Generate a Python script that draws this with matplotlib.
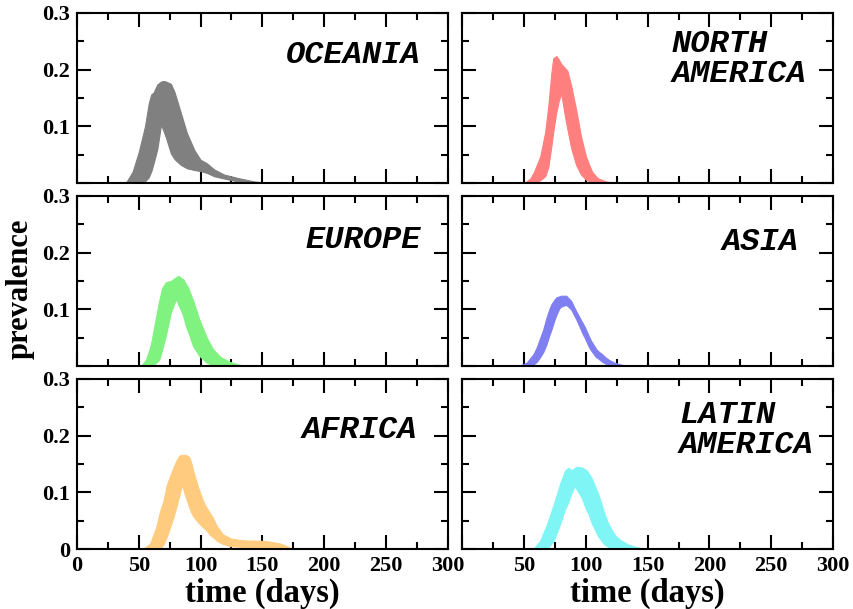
#!/usr/bin/env python3
"""Six-panel prevalence bands per world region (min/max envelope over runs)."""

import matplotlib

matplotlib.use("Agg")
import matplotlib.pyplot as plt
from matplotlib.ticker import MultipleLocator


# --- data (time in days, prevalence) ---
oceania_t = [35, 40, 45, 50, 55, 58, 60, 62, 65, 68, 70, 72, 76, 79, 84, 89,
             95, 100, 105, 111, 119, 130, 143, 155]
oceania_lo = [0, 0, 0, 0, 0.003, 0.010, 0.020, 0.035, 0.060, 0.103, 0.092,
              0.080, 0.052, 0.042, 0.032, 0.026, 0.023, 0.021, 0.018, 0.012,
              0.008, 0.003, 0.001, 0]
oceania_hi = [0, 0.002, 0.020, 0.055, 0.100, 0.140, 0.156, 0.160, 0.174,
              0.179, 0.180, 0.179, 0.175, 0.160, 0.124, 0.088, 0.058, 0.041,
              0.035, 0.024, 0.015, 0.009, 0.003, 0]

north_america_t = [50, 55, 58, 63, 67, 69.5, 72, 73.5, 76, 78, 80, 83, 85, 88,
                   92, 96, 100, 103, 105, 108, 110, 116, 124]
north_america_lo = [0, 0, 0, 0.005, 0.012, 0.028, 0.065, 0.090, 0.125, 0.145,
                    0.158, 0.118, 0.095, 0.062, 0.032, 0.015, 0.006, 0.003,
                    0.002, 0, 0, 0, 0]
north_america_hi = [0, 0.008, 0.020, 0.047, 0.090, 0.135, 0.194, 0.220, 0.224,
                    0.218, 0.210, 0.203, 0.198, 0.172, 0.130, 0.082, 0.047,
                    0.030, 0.020, 0.012, 0.008, 0.003, 0]

europe_t = [52, 56, 58, 60, 63, 66, 67, 69, 72, 76, 79, 80.5, 82, 84.5, 86,
            88.5, 90, 94, 99, 105, 110, 116, 124, 130, 137]
europe_lo = [0, 0, 0, 0.002, 0.004, 0.010, 0.014, 0.030, 0.055, 0.095, 0.112,
             0.118, 0.108, 0.097, 0.088, 0.068, 0.060, 0.035, 0.018, 0.006,
             0.002, 0, 0, 0, 0]
europe_hi = [0, 0.012, 0.025, 0.040, 0.075, 0.110, 0.120, 0.138, 0.148, 0.150,
             0.155, 0.157, 0.159, 0.155, 0.153, 0.143, 0.138, 0.115, 0.082,
             0.050, 0.030, 0.016, 0.007, 0.003, 0]

asia_t = [45.5, 52, 57.5, 60, 63, 65.5, 68, 70.5, 72, 74.5, 76, 78.5, 80, 84,
          88, 92, 93.5, 97.5, 99, 102.5, 104, 108, 109.5, 113.5, 116, 118.5,
          123, 126, 133]
asia_lo = [0, 0, 0.003, 0.007, 0.016, 0.025, 0.038, 0.055, 0.064, 0.081,
           0.090, 0.102, 0.105, 0.108, 0.100, 0.083, 0.076, 0.056, 0.050,
           0.033, 0.028, 0.016, 0.014, 0.007, 0.004, 0.002, 0, 0, 0]
asia_hi = [0, 0.006, 0.021, 0.032, 0.050, 0.065, 0.085, 0.101, 0.109, 0.117,
           0.121, 0.123, 0.124, 0.124, 0.115, 0.097, 0.091, 0.075, 0.069,
           0.052, 0.045, 0.031, 0.027, 0.020, 0.015, 0.011, 0.006, 0.004, 0]

africa_t = [53.5, 59, 64, 67, 70, 72.5, 74, 78, 80.5, 83, 85, 87.5, 89, 91,
            93, 94, 98, 102, 104, 108, 110, 113, 118, 124, 126, 132, 137, 143,
            153, 156, 164, 170, 172, 175]
africa_lo = [0, 0, 0, 0, 0.008, 0.021, 0.030, 0.056, 0.075, 0.097, 0.113,
             0.095, 0.085, 0.072, 0.062, 0.058, 0.047, 0.038, 0.035, 0.024,
             0.021, 0.015, 0.009, 0.005, 0.005, 0.004, 0.003, 0.003, 0.002,
             0.002, 0.001, 0, 0, 0]
africa_hi = [0, 0.009, 0.038, 0.065, 0.085, 0.112, 0.121, 0.144, 0.156,
             0.165, 0.166, 0.166, 0.165, 0.162, 0.148, 0.138, 0.109, 0.085,
             0.076, 0.062, 0.055, 0.041, 0.026, 0.019, 0.018, 0.016, 0.015,
             0.015, 0.014, 0.013, 0.010, 0.005, 0.003, 0]

latin_america_t = [57.5, 63, 68.5, 74, 79, 83, 85, 86, 88.5, 91, 92.5, 96.5,
                   100.5, 102, 104.5, 107, 110, 112.5, 115, 118, 120.5, 123,
                   127, 134, 140, 148]
latin_america_lo = [0, 0, 0, 0.015, 0.044, 0.070, 0.079, 0.085, 0.100, 0.112,
                    0.105, 0.091, 0.068, 0.062, 0.047, 0.035, 0.022, 0.015,
                    0.008, 0.004, 0.002, 0, 0, 0, 0, 0]
latin_america_hi = [0, 0.015, 0.044, 0.079, 0.115, 0.138, 0.142, 0.143, 0.139,
                    0.143, 0.145, 0.144, 0.139, 0.134, 0.126, 0.112, 0.097,
                    0.080, 0.062, 0.045, 0.035, 0.026, 0.017, 0.008, 0.004, 0]

region_names = ["OCEANIA", "NORTH\nAMERICA", "EUROPE", "ASIA", "AFRICA",
                "LATIN\nAMERICA"]
region_colors = ["#808080", "#ff7f7f", "#7ff27f", "#7f7ff2", "#ffcc7f",
                 "#7ff5f5"]
region_data = [
    (oceania_t, oceania_lo, oceania_hi),
    (north_america_t, north_america_lo, north_america_hi),
    (europe_t, europe_lo, europe_hi),
    (asia_t, asia_lo, asia_hi),
    (africa_t, africa_lo, africa_hi),
    (latin_america_t, latin_america_lo, latin_america_hi),
]

x_ticks = [0, 50, 100, 150, 200, 250, 300]
y_ticks = [0, 0.1, 0.2, 0.3]

# label anchor (axes fraction, right edge / centre) per panel
label_pos = [(0.928, 0.75), (0.928, 0.73), (0.928, 0.74),
             (0.908, 0.73), (0.918, 0.70), (0.948, 0.70)]

SERIF = ["Liberation Serif", "DejaVu Serif"]
MONO = ["Liberation Mono", "DejaVu Sans Mono"]


def style_axis(ax, row, col):
    ax.set_xlim(0, 300)
    ax.set_ylim(0, 0.3)
    ax.xaxis.set_minor_locator(MultipleLocator(25))
    ax.yaxis.set_minor_locator(MultipleLocator(0.05))
    ax.set_xticks(x_ticks)
    ax.set_yticks(y_ticks)
    ax.tick_params(which="both", direction="in", top=True, right=True,
                   width=1.5, labelsize=16, pad=5)
    ax.tick_params(which="major", length=10)
    ax.tick_params(which="minor", length=5)
    for spine in ax.spines.values():
        spine.set_linewidth(1.5)

    if row == 2:
        labels = [str(v) for v in x_ticks]
        if col == 1:
            labels[0] = ""
        ax.set_xticklabels(labels, fontfamily=SERIF, fontweight="bold")
        ax.set_xlabel("time (days)", fontfamily=SERIF, fontweight="bold",
                      fontsize=23.5, labelpad=1)
    else:
        ax.set_xticklabels([])

    if col == 0:
        labels = ["0", "0.1", "0.2", "0.3"]
        if row < 2:
            labels[0] = ""
        ax.set_yticklabels(labels, fontfamily=SERIF, fontweight="bold")
    else:
        ax.set_yticklabels([])


def main():
    fig, axes = plt.subplots(3, 2, figsize=(8.54, 6.09), dpi=100)
    fig.subplots_adjust(left=0.0902, right=0.9754, top=0.9787, bottom=0.0985,
                        wspace=0.040, hspace=0.076)

    for idx, ax in enumerate(axes.flat):
        row, col = divmod(idx, 2)
        t, lo, hi = region_data[idx]
        ax.fill_between(t, lo, hi, color=region_colors[idx], linewidth=0.8,
                        edgecolor=region_colors[idx], zorder=2)
        style_axis(ax, row, col)
        x, y = label_pos[idx]
        ax.text(x, y, region_names[idx], transform=ax.transAxes, ha="right",
                va="center", multialignment="left", fontfamily=MONO,
                fontweight="bold", fontstyle="italic", fontsize=23,
                linespacing=1.0)

    fig.text(0.024, 0.525, "prevalence", rotation=90, ha="center",
             va="center", fontfamily=SERIF, fontweight="bold", fontsize=22)

    fig.savefig("out.png", dpi=100)
    plt.close(fig)


if __name__ == "__main__":
    main()
